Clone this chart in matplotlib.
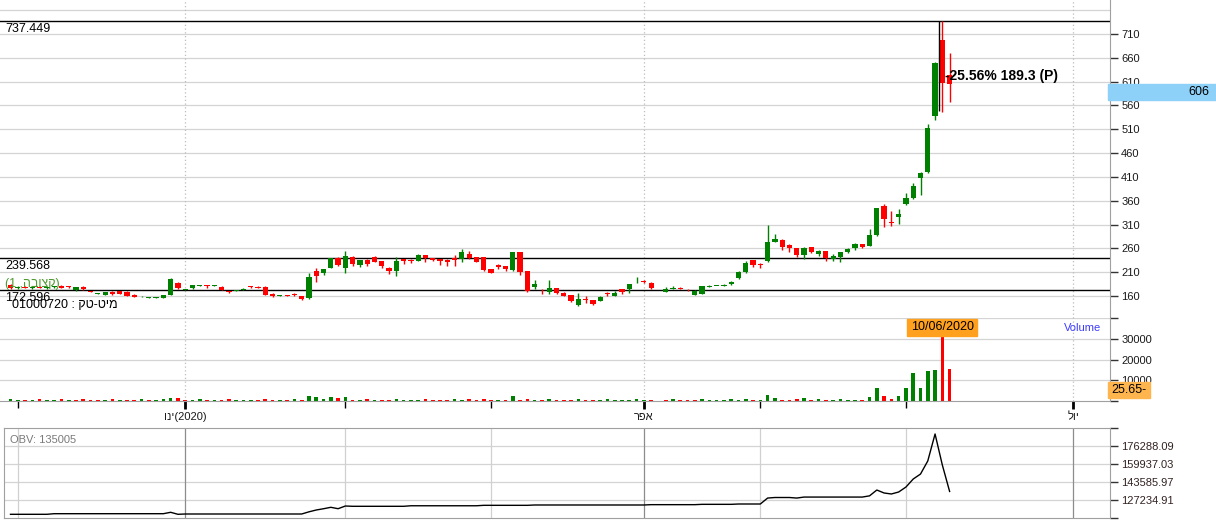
"""Daily candlestick chart with volume and OBV panels."""

import matplotlib

matplotlib.use("Agg")

import matplotlib.pyplot as plt
import numpy as np
from matplotlib.patches import Rectangle

plt.rcParams["font.family"] = ["Liberation Sans", "DejaVu Sans"]

# daily candles, oldest first (None = no candle that day)
opens = [
    183, 177, 179, 177, 178, 176, 178, 181, 180, 172,
    179, 170, 165, 163, 169, 170, 169, 163, 157.5, 157,
    157, 156, 163, 188, 174, 176, 182, 183, 182, 179,
    170, 171, 174, 181, 179, 179, 165, 161, 162, 165,
    160, 155, 212, 209, 219, 239, 219, 241, 225, 235,
    241, 233, 219, 213, 237, 235, 234, 246, 239, 237,
    236, 239, 237, 249, 241, 241, 216, 225, 222, 214,
    252, 212, 179, 171, 169, 176, 167, 162, 141, 154,
    151, 150, 165, 161, 174, 174, 189, 191, 188, None,
    169, 175, 177, 173, 163, 165, 180, 181, 182, 185,
    197, 210, 235, 227, 234, 274, 277, 268, 260, 246,
    262, 248, 254, 237, 241, 252, 260, 269, 265, 288,
    349, 316, 326, 353, 366, 408, 420, 538, 697, 624,
]
highs = [
    185, 180, 181, 179, 180, 179, 181, 183, 181, 179,
    180, 171, 167, 169, 170, 171, 170, 164, 159, 158,
    158, 163, 197, 190, 175, 184, 184, 184, 184, 180,
    171, 173, 176, 182, 180, 180, 166, 163, 163, 166,
    161, 209, 219, 216, 240, 242, 254, 245, 235, 237,
    245, 234, 220, 242, 238, 238, 248, 247, 240, 238,
    237, 246, 258, 255, 242, 242, 217, 227, 224, 252,
    253, 213, 193, 174, 193, 177, 168, 163, 167, 160,
    152, 161, 168, 170, 175, 185, 200, 193, 189, None,
    179, 181, 178, 175, 172, 182, 184, 182, 185, 191,
    213, 233, 236, 229, 309, 290, 279, 269, 261, 262,
    263, 257, 255, 248, 253, 261, 272, 270, 300, 345,
    354, 338, 342, 377, 398, 421, 522, 652, 737.449, 670,
]
lows = [
    174, 175, 176, 175, 176, 174, 176, 176, 176, 171,
    173, 168, 164, 162, 163, 164, 160, 157, 157, 156,
    156, 155, 162, 175, 173, 175, 181, 177, 181, 172,
    167, 170, 173, 176, 177, 162, 157, 160, 160, 161,
    151, 154, 190, 204, 218, 224, 209, 224, 220, 223,
    231, 218, 207, 203, 227, 229, 233, 231, 233, 226,
    224, 224, 232, 238, 231, 212, 208, 216, 213, 212,
    205, 168, 174, 165, 165, 164, 159, 148, 140, 146,
    141, 149, 160, 160, 164, 167, 188, 187, 175, None,
    168, 174, 174, 170, 162, 164, 178, 180, 181, 184,
    196, 209, 220, 218, 232, 273, 256, 252, 242, 238,
    250, 244, 234, 234, 232, 251, 257, 261, 264, 286,
    305, 307, 311, 352, 363, 373, 418, 530, 547, 568,
]
closes = [
    176, 179, 177, 178, 177, 178, 180, 177, 179, 178,
    174, 169, 166, 169, 164, 165, 161, 158, 158.5, 157.5,
    157.5, 162, 195, 176, 175, 183, 183, 182, 183, 173,
    169, 172, 175, 180, 178, 163, 159, 162, 161, 162,
    154, 200, 202, 216, 239, 225, 244, 227, 235, 227,
    232, 223, 213, 233, 233, 234, 246, 239, 235, 233,
    232, 235, 252, 239, 232, 214, 209, 220, 216, 252,
    210, 170, 185, 170, 176, 166, 160, 150, 153, 152,
    143, 158, 164, 167, 168, 185, 190, 190, 176, None,
    174, 176, 175, 172, 170, 181, 181, 182, 184, 189,
    211, 229, 225, 225, 274, 279, 262, 260, 246, 260,
    253, 255, 240, 244, 252, 258, 269, 262, 288, 344,
    322, 314, 332, 366, 391, 419, 512, 650, 608, 606,
]
volumes = [
    600, 500, 400, 500, 600, 400, 500, 600, 500, 400,
    600, 500, 400, 500, 600, 500, 400, 500, 600, 400,
    500, 700, 1500, 1500, 500, 400, 600, 500, 400, 500,
    600, 400, 500, 400, 500, 600, 500, 400, 500, 600,
    500, 2500, 2000, 1000, 2000, 1500, 2000, 500, 400, 600,
    500, 500, 400, 600, 500, 400, 500, 600, 500, 400,
    500, 600, 500, 1000, 500, 600, 400, 500, 500, 2500,
    500, 600, 400, 500, 600, 500, 400, 500, 600, 500,
    400, 500, 600, 500, 400, 500, 600, 500, 400, None,
    500, 600, 500, 400, 500, 600, 500, 400, 500, 600,
    500, 600, 500, 400, 3000, 1500, 500, 500, 1000, 1500,
    500, 600, 400, 500, 600, 500, 400, 500, 2000, 6000,
    2250, 800, 2250, 6000, 13500, 6000, 14350, 14800, 32600, 15300,
]
obv = [
    114245, 114245, 114245, 114245, 114245, 114245, 114790, 114790, 114790, 114790,
    114790, 114790, 114790, 114790, 114790, 114790, 114790, 114790, 114790, 114790,
    114790, 114790, 116060, 114245, 114517, 114517, 114517, 114517, 114517, 114517,
    114517, 114517, 114517, 114517, 114517, 114517, 114517, 114517, 114517, 114517,
    114517, 116500, 118150, 119300, 120600, 119330, 121785, 121512, 121512, 121512,
    121512, 121512, 121512, 121512, 121512, 122000, 122000, 122000, 122000, 122000,
    122000, 122000, 122000, 122000, 122000, 122400, 122400, 122400, 122400, 122400,
    122400, 122400, 122700, 122700, 122700, 122700, 122700, 122700, 122700, 122700,
    122700, 122700, 122700, 122700, 122700, 122700, 122700, 122700, 123000, 123000,
    123000, 123000, 123000, 123000, 123000, 123300, 123300, 123300, 123300, 123300,
    123600, 123600, 123600, 123600, 129000, 129500, 129500, 129500, 129000, 129900,
    129900, 129900, 129900, 129900, 129900, 129900, 129900, 129900, 131000, 136300,
    133600, 132700, 134500, 139000, 146300, 150800, 162700, 187200, 159000, 135005,
]

level_lines = [737.449, 239.568, 172.596]
price_ticks = [160, 210, 260, 310, 360, 410, 460, 510, 560, 610, 660, 710]
volume_ticks = [0, 10000, 20000, 30000, 40000]
volume_labels = ["", "10000", "20000", "30000", ""]
obv_ticks = [110883.85, 127234.91, 143585.97, 159937.03, 176288.09, 192639.15]

# candle index of each month start, Dec 2019 .. Jul 2020
month_starts = [1, 24, 46, 66, 87, 103, 123, 146]
month_labels = ["", "וני(2020)", "", "", "רפא", "", "", "לוי"]
quarter_months = [1, 4, 7]  # positions in month_starts that get a label

last_price = 606
last_change = "25.65-"
hover_day = 128
hover_date = "10/06/2020"
measure_top = 737.449
measure_points = 189.3
measure_text = "-25.56% 189.3 (P)"
obv_text = "OBV: 135005"
series_text = "(1 ,הבוצק)"
symbol_text = "01000720 : קט-טימ"

GREEN = "#008000"
RED = "#ff0000"
GRID = "#d4d4d4"
FRAME = "#a0a0a0"
TICK = "#333333"

W, H = 1216, 528
X0, STEP = 10.5, 7.28  # first candle centre and candle spacing, px
Y710, PRICE_PER_PX = 34.0, 550 / 262


def idx_at(px):
    return (px - X0) / STEP


def px_of_idx(i):
    return X0 + STEP * i


def price_at(py):
    return 710 - (py - Y710) * PRICE_PER_PX


def py_of_price(p):
    return Y710 + (710 - p) / PRICE_PER_PX


def fig_rect(left, top, right, bottom):
    return [left / W, 1 - bottom / H, (right - left) / W, (bottom - top) / H]


def fx(px):
    return px / W


def fy(py):
    return 1 - py / H


def to_array(values):
    return np.array([np.nan if val is None else val for val in values], dtype=float)


o = to_array(opens)
h = to_array(highs)
lo = to_array(lows)
c = to_array(closes)
v = to_array(volumes)
ob = to_array(obv)
x = np.arange(len(o))
ok = ~np.isnan(o)

fig = plt.figure(figsize=(W / 100, H / 100), dpi=100)
ax = fig.add_axes(fig_rect(0, 0, 1110, 318.4))
axv = fig.add_axes(fig_rect(0, 318.4, 1110, 400.7))
axo = fig.add_axes(fig_rect(4, 428, 1110, 518))

# ---- price panel
ax.set_xlim(idx_at(0), idx_at(1110))
ax.set_ylim(price_at(318.4), price_at(0))
for p in price_ticks + [760]:
    ax.axhline(p, color=GRID, lw=0.9, zorder=0)
for k in quarter_months:
    ax.axvline(month_starts[k], color="#bdbdbd", lw=0.9, ls=(0, (1, 2)), zorder=0)
for lvl in level_lines:
    ax.axhline(lvl, color="black", lw=1.0, zorder=1)

candle_colors = np.where(c >= o, GREEN, RED)
ax.vlines(x[ok], lo[ok], h[ok], colors=candle_colors[ok], lw=1.0, zorder=2)
body_min = 1.8
body_h = np.maximum(np.abs(c - o), body_min)
body_bottom = np.where(np.abs(c - o) < body_min, (o + c) / 2 - body_min / 2, np.minimum(o, c))
ax.bar(x[ok], body_h[ok], bottom=body_bottom[ok], width=0.72,
       color=candle_colors[ok], lw=0, zorder=3)

# measurement tool
ax.vlines(hover_day - 0.4, measure_top - measure_points, measure_top,
          color="black", lw=1.0, zorder=4)

ax.yaxis.tick_right()
ax.set_yticks(price_ticks)
ax.set_xticks([])
ax.tick_params(axis="y", direction="out", length=6, width=1, color=TICK,
               labelsize=8, pad=2, labelcolor="#1a1a1a")
for side in ["top", "left", "bottom"]:
    ax.spines[side].set_visible(False)
ax.spines["right"].set_color(FRAME)
ax.patch.set_alpha(0)

# ---- volume panel
axv.set_xlim(idx_at(0), idx_at(1110))
axv.set_ylim(0, 40000)
for t in volume_ticks[1:]:
    axv.axhline(t, color=GRID, lw=0.9, zorder=0)
for k in quarter_months:
    axv.axvline(month_starts[k], color="#bdbdbd", lw=0.9, ls=(0, (1, 2)), zorder=0)
prev_close = np.concatenate([[c[0]], c[:-1]])
vol_colors = np.where(c >= prev_close, GREEN, RED)
vol_ok = ~np.isnan(v)
axv.bar(x[vol_ok], v[vol_ok], width=0.5, color=vol_colors[vol_ok], lw=0, zorder=2)

axv.yaxis.tick_right()
axv.set_yticks(volume_ticks)
axv.set_yticklabels(volume_labels)
axv.tick_params(axis="y", direction="out", length=6, width=1, color=TICK,
                labelsize=8, pad=2, labelcolor="#1a1a1a")
axv.set_xticks(month_starts)
axv.set_xticklabels(month_labels)
axv.tick_params(axis="x", direction="out", length=5, width=1, labelsize=8,
                pad=3, labelcolor="#1a1a1a")
for n, tick in enumerate(axv.xaxis.get_major_ticks()):
    if n in quarter_months:
        tick.tick1line.set_color("#505050")
        tick.tick1line.set_markeredgewidth(2)
        tick.tick1line.set_markersize(6)
    else:
        tick.tick1line.set_color("#f08080")
for side in ["top", "left"]:
    axv.spines[side].set_visible(False)
axv.spines["right"].set_color(FRAME)
axv.spines["bottom"].set_color(FRAME)
axv.patch.set_alpha(0)

# ---- OBV panel
axo.set_xlim(idx_at(4), idx_at(1110))
axo.set_ylim(obv_ticks[0], obv_ticks[-1])
for t in obv_ticks[1:-1]:
    axo.axhline(t, color=GRID, lw=0.9, zorder=0)
for n, m in enumerate(month_starts):
    axo.axvline(m, color="#8c8c8c" if n in quarter_months else "#d0d0d0",
                lw=0.9, zorder=0)
axo.plot(x, ob, color="black", lw=1.0, zorder=2)
axo.yaxis.tick_right()
axo.set_yticks(obv_ticks)
axo.set_yticklabels([""] + [f"{t:.2f}" for t in obv_ticks[1:-1]] + [""])
axo.set_xticks([])
axo.tick_params(axis="y", direction="out", length=6, width=1, color=TICK,
                labelsize=8, pad=2, labelcolor="#332222")
for side in axo.spines:
    axo.spines[side].set_color(FRAME)

# ---- labels and boxes
for lvl in level_lines:
    fig.text(fx(5), fy(py_of_price(lvl) + 8), f"{lvl:.3f}", fontsize=9,
             color="black", va="center", ha="left")
fig.text(fx(5), fy(284), series_text, fontsize=9, color="#4f9a2f",
         va="center", ha="left")
fig.text(fx(12), fy(305), symbol_text, fontsize=9, color="black",
         va="center", ha="left")

top_606 = py_of_price(last_price)
fig.patches.append(Rectangle((fx(1108), fy(top_606 + 16)), fx(1216) - fx(1108),
                             16 / H, transform=fig.transFigure,
                             color="#8dd0f8", zorder=5))
fig.text(fx(1209), fy(top_606 + 8), f"{last_price}", fontsize=9, color="black",
         ha="right", va="center", zorder=6)

fig.patches.append(Rectangle((fx(1108), fy(398)), 42 / W, 16 / H,
                             transform=fig.transFigure, color="#ffb54d", zorder=5))
fig.text(fx(1129), fy(390), last_change, fontsize=9, color="black",
         ha="center", va="center", zorder=6)

date_cx = px_of_idx(hover_day)
fig.patches.append(Rectangle((fx(date_cx - 35), fy(336)), 70 / W, 17.5 / H,
                             transform=fig.transFigure, color="#ffa01e", zorder=5))
fig.text(fx(date_cx), fy(327), hover_date, fontsize=9, color="black",
         ha="center", va="center", zorder=6)

fig.text(fx(1101), fy(328), "Volume", fontsize=8, color="#3c3cff",
         ha="right", va="center")
fig.text(fx(10), fy(440), obv_text, fontsize=8, color="#7a7a7a",
         ha="left", va="center")
fig.text(fx(945), fy(76), measure_text, fontsize=10, fontweight="bold",
         color="black", ha="left", va="center")

fig.savefig("out.png", dpi=100)
